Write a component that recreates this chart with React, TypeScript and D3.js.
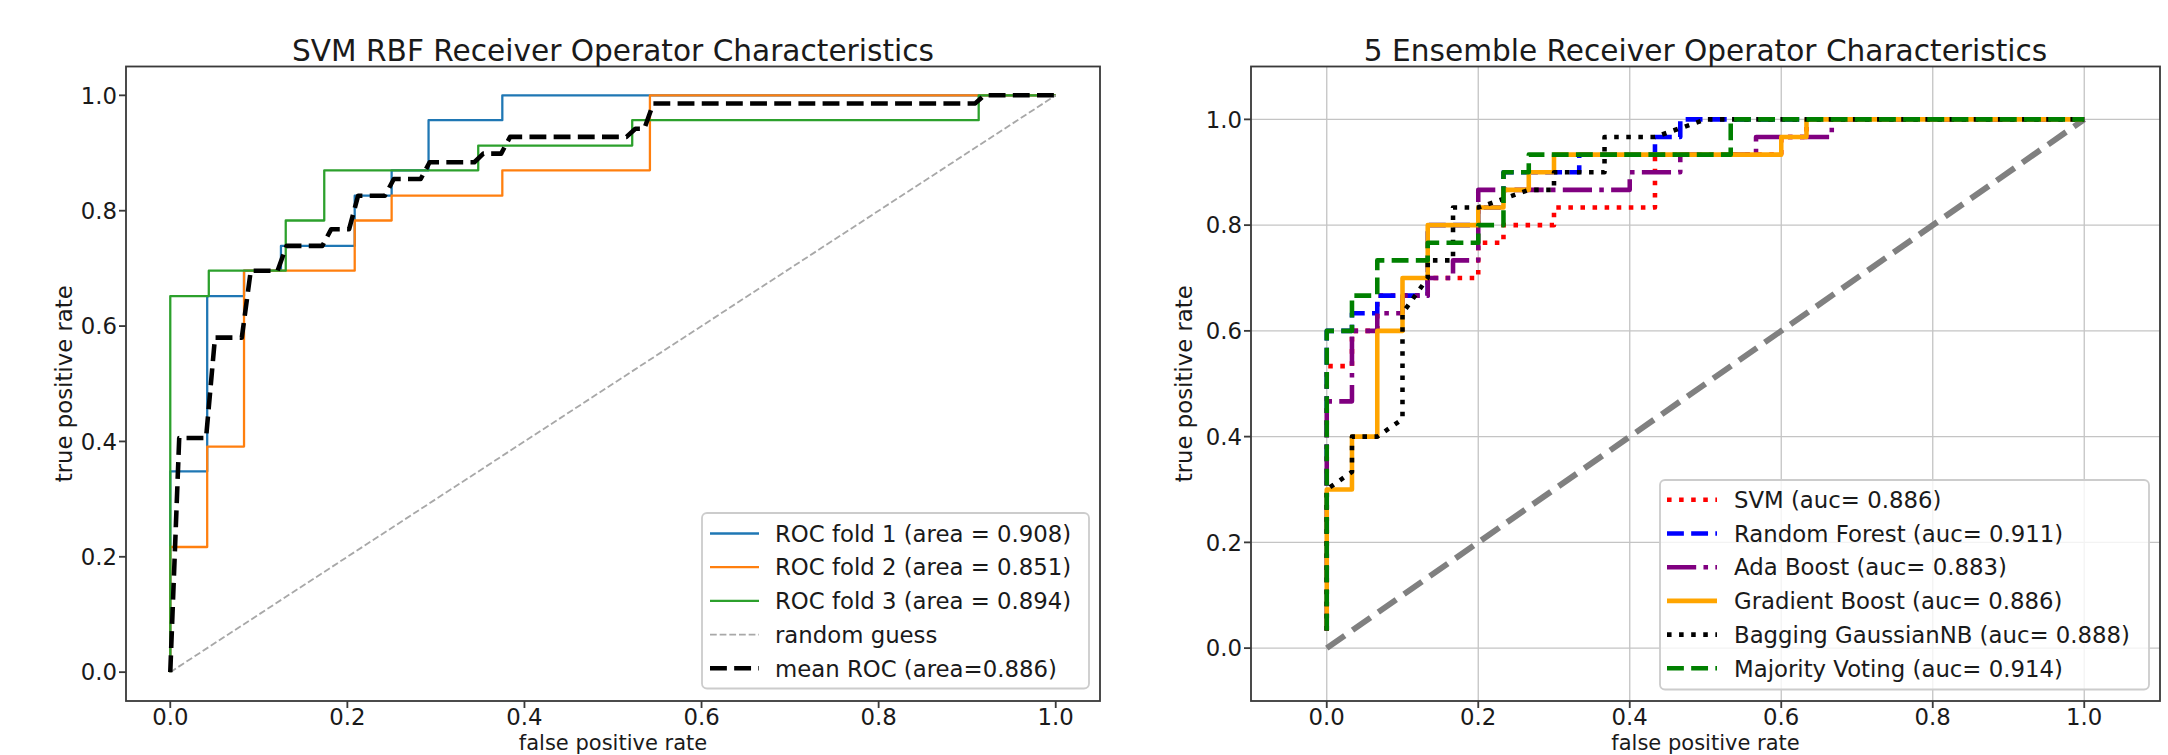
import React, { useEffect } from "react";
import * as d3 from "d3";

// ---------- data (left: SVM RBF cross-validation folds) ----------
const TICKS = [0, 0.2, 0.4, 0.6, 0.8, 1.0];
const TICK_LABELS = ["0.0", "0.2", "0.4", "0.6", "0.8", "1.0"];

const fold1Fpr = [0, 0, 0.0417, 0.0417, 0.0833, 0.0833, 0.125, 0.125, 0.2083, 0.2083, 0.25, 0.25, 0.2917, 0.2917, 0.375, 0.375, 1];
const fold1Tpr = [0, 0.348, 0.348, 0.652, 0.652, 0.696, 0.696, 0.739, 0.739, 0.826, 0.826, 0.870, 0.870, 0.957, 0.957, 1, 1];

const fold2Fpr = [0, 0, 0.0417, 0.0417, 0.0833, 0.0833, 0.2083, 0.2083, 0.25, 0.25, 0.375, 0.375, 0.5417, 0.5417, 1];
const fold2Tpr = [0, 0.217, 0.217, 0.391, 0.391, 0.696, 0.696, 0.783, 0.783, 0.826, 0.826, 0.870, 0.870, 1, 1];

const fold3Fpr = [0, 0, 0.0435, 0.0435, 0.1304, 0.1304, 0.1739, 0.1739, 0.3478, 0.3478, 0.5217, 0.5217, 0.913, 0.913, 1];
const fold3Tpr = [0, 0.652, 0.652, 0.696, 0.696, 0.783, 0.783, 0.870, 0.870, 0.913, 0.913, 0.957, 0.957, 1, 1];

const meanFpr = [0, 0.0101, 0.0404, 0.0505, 0.0808, 0.0909, 0.1212, 0.1313, 0.1717, 0.1818, 0.202, 0.2121, 0.2424, 0.2525, 0.2828, 0.2929, 0.3434, 0.3535, 0.3737, 0.3838, 0.5152, 0.5253, 0.5354, 0.5455, 0.9091, 0.9192, 1];
const meanTpr = [0, 0.406, 0.406, 0.580, 0.580, 0.696, 0.696, 0.739, 0.739, 0.768, 0.768, 0.826, 0.826, 0.855, 0.855, 0.884, 0.884, 0.899, 0.899, 0.928, 0.928, 0.942, 0.942, 0.986, 0.986, 1, 1];

const guessFpr = [0, 1];
const guessTpr = [0, 1];

const leftLabels = [
  "ROC fold 1 (area = 0.908)",
  "ROC fold 2 (area = 0.851)",
  "ROC fold 3 (area = 0.894)",
  "random guess",
  "mean ROC (area=0.886)",
];

// ---------- data (right: ensemble comparison) ----------
const svmFpr = [0, 0, 0.0333, 0.0333, 0.0667, 0.0667, 0.1333, 0.1333, 0.2, 0.2, 0.2333, 0.2333, 0.3, 0.3, 0.4333, 0.4333, 0.6, 0.6, 0.6333, 0.6333, 1];
const svmTpr = [0.0333, 0.5333, 0.5333, 0.6, 0.6, 0.6667, 0.6667, 0.7, 0.7, 0.7667, 0.7667, 0.8, 0.8, 0.8333, 0.8333, 0.9333, 0.9333, 0.9667, 0.9667, 1, 1];

const rfFpr = [0, 0, 0.0333, 0.0333, 0.0667, 0.0667, 0.1333, 0.1333, 0.2, 0.2, 0.2333, 0.2333, 0.3333, 0.3333, 0.4333, 0.4333, 0.4667, 0.4667, 1];
const rfTpr = [0.0333, 0.6, 0.6, 0.6333, 0.6333, 0.6667, 0.6667, 0.8, 0.8, 0.8333, 0.8333, 0.9, 0.9, 0.9333, 0.9333, 0.9667, 0.9667, 1, 1];

const adaFpr = [0, 0, 0.0333, 0.0333, 0.0667, 0.0667, 0.1, 0.1, 0.1333, 0.1333, 0.1667, 0.1667, 0.2, 0.2, 0.4, 0.4, 0.4667, 0.4667, 0.5667, 0.5667, 0.6667, 0.6667, 1];
const adaTpr = [0.0333, 0.4667, 0.4667, 0.6, 0.6, 0.6333, 0.6333, 0.6667, 0.6667, 0.7, 0.7, 0.7333, 0.7333, 0.8667, 0.8667, 0.9, 0.9, 0.9333, 0.9333, 0.9667, 0.9667, 1, 1];

const gbFpr = [0, 0, 0.0333, 0.0333, 0.0667, 0.0667, 0.1, 0.1, 0.1333, 0.1333, 0.2, 0.2, 0.2333, 0.2333, 0.2667, 0.2667, 0.3, 0.3, 0.6, 0.6, 0.6333, 0.6333, 1];
const gbTpr = [0.0333, 0.3, 0.3, 0.4, 0.4, 0.6, 0.6, 0.7, 0.7, 0.8, 0.8, 0.8333, 0.8333, 0.8667, 0.8667, 0.9, 0.9, 0.9333, 0.9333, 0.9667, 0.9667, 1, 1];

const bagFpr = [0, 0, 0.0333, 0.0333, 0.0667, 0.1, 0.1, 0.1333, 0.1333, 0.1667, 0.1667, 0.2, 0.2667, 0.3, 0.3, 0.3667, 0.3667, 0.4333, 0.5, 1];
const bagTpr = [0.0333, 0.3, 0.3333, 0.4, 0.4, 0.4333, 0.6333, 0.7, 0.7333, 0.7333, 0.8333, 0.8333, 0.8667, 0.8667, 0.9, 0.9, 0.9667, 0.9667, 1, 1];

const mvFpr = [0, 0, 0.0333, 0.0333, 0.0667, 0.0667, 0.1333, 0.1333, 0.2, 0.2, 0.2333, 0.2333, 0.2667, 0.2667, 0.5333, 0.5333, 1];
const mvTpr = [0.0333, 0.6, 0.6, 0.6667, 0.6667, 0.7333, 0.7333, 0.7667, 0.7667, 0.8, 0.8, 0.9, 0.9, 0.9333, 0.9333, 1, 1];

const diagFpr = [0, 1];
const diagTpr = [0, 1];

const rightLabels = [
  "SVM (auc= 0.886)",
  "Random Forest (auc= 0.911)",
  "Ada Boost (auc= 0.883)",
  "Gradient Boost (auc= 0.886)",
  "Bagging GaussianNB (auc= 0.888)",
  "Majority Voting (auc= 0.914)",
];

// ---------- styling ----------
const FONT = "DejaVu Sans";
const FS = 22.8;
const XLABEL_FS = 21;
const TITLE_FS = 29.6;
const TEXT = "#1a1a1a";
const PT = 2.28; // px per point

type Style = { color: string; width: number; dash?: string };

const leftStyles: Style[] = [
  { color: "#1f77b4", width: 1 * PT },
  { color: "#ff7f0e", width: 1 * PT },
  { color: "#2ca02c", width: 1 * PT },
  { color: "#a8a8a8", width: 0.8 * PT, dash: `${3.7 * 0.8 * PT} ${1.6 * 0.8 * PT}` },
  { color: "#000000", width: 2 * PT, dash: `${3.7 * 2 * PT} ${1.6 * 2 * PT}` },
];

const LW = 2 * PT;
const rightStyles: Style[] = [
  { color: "#ff0000", width: LW, dash: `${1 * LW} ${1.65 * LW}` },
  { color: "#0000ff", width: LW, dash: `${3.7 * LW} ${1.6 * LW}` },
  { color: "#800080", width: LW, dash: `${6.4 * LW} ${1.6 * LW} ${1 * LW} ${1.6 * LW}` },
  { color: "#ffa500", width: LW },
  { color: "#000000", width: LW, dash: `${1 * LW} ${1.65 * LW}` },
  { color: "#008000", width: LW, dash: `${3.7 * LW} ${1.6 * LW}` },
];
const diagStyle: Style = { color: "#808080", width: 2.6 * PT, dash: `${3.7 * 2.6 * PT} ${1.6 * 2.6 * PT}` };

const W = 2168;
const H = 755;

const zip = (xs: number[], ys: number[]) => xs.map((x, i) => [x, ys[i]] as [number, number]);

function Axes(props: {
  x: d3.ScaleLinear<number, number>;
  y: d3.ScaleLinear<number, number>;
  grid: boolean;
  title: string;
  ylabelX: number;
  clipId: string;
  children?: React.ReactNode;
}) {
  const { x, y, grid, title, ylabelX, clipId, children } = props;
  const [x0, x1] = x.range();
  const [y0, y1] = y.range(); // y0 bottom, y1 top
  const cx = (x0 + x1) / 2;
  const cy = (y0 + y1) / 2;
  return (
    <g>
      <defs>
        <clipPath id={clipId}>
          <rect x={x0} y={y1} width={x1 - x0} height={y0 - y1} />
        </clipPath>
      </defs>
      {grid &&
        TICKS.map((t) => (
          <g key={"g" + t}>
            <line x1={x(t)} x2={x(t)} y1={y1} y2={y0} stroke="#c4c4c4" strokeWidth={1.3} />
            <line x1={x0} x2={x1} y1={y(t)} y2={y(t)} stroke="#c4c4c4" strokeWidth={1.3} />
          </g>
        ))}
      <g clipPath={`url(#${clipId})`}>{children}</g>
      {/* spines */}
      <rect x={x0} y={y1} width={x1 - x0} height={y0 - y1} fill="none" stroke="#3a3a3a" strokeWidth={0.8 * PT} />
      {/* ticks */}
      {TICKS.map((t, i) => (
        <g key={"t" + t}>
          <line x1={x(t)} x2={x(t)} y1={y0} y2={y0 + 7} stroke="#3a3a3a" strokeWidth={0.8 * PT} />
          <text x={x(t)} y={725} textAnchor="middle" fontSize={FS} fontFamily={FONT} fill={TEXT}>
            {TICK_LABELS[i]}
          </text>
          <line x1={x0 - 7} x2={x0} y1={y(t)} y2={y(t)} stroke="#3a3a3a" strokeWidth={0.8 * PT} />
          <text x={x0 - 9} y={y(t)} dy="0.36em" textAnchor="end" fontSize={FS} fontFamily={FONT} fill={TEXT}>
            {TICK_LABELS[i]}
          </text>
        </g>
      ))}
      <text x={cx} y={61} textAnchor="middle" fontSize={TITLE_FS} fontFamily={FONT} fill={TEXT}>
        {title}
      </text>
      <text x={cx} y={750} textAnchor="middle" fontSize={XLABEL_FS} fontFamily={FONT} fill={TEXT}>
        false positive rate
      </text>
      <text
        transform={`translate(${ylabelX},${cy}) rotate(-90)`}
        textAnchor="middle"
        fontSize={FS}
        fontFamily={FONT}
        fill={TEXT}
      >
        true positive rate
      </text>
    </g>
  );
}

function Legend(props: {
  x: number;
  y: number;
  w: number;
  h: number;
  rows: number[];
  handleX: [number, number];
  textX: number;
  labels: string[];
  styles: Style[];
}) {
  const { x, y, w, h, rows, handleX, textX, labels, styles } = props;
  return (
    <g>
      <rect x={x} y={y} width={w} height={h} rx={5} fill="white" fillOpacity={0.8} stroke="#cccccc" strokeWidth={0.8 * PT} />
      {labels.map((lab, i) => (
        <g key={lab}>
          <line
            x1={handleX[0]}
            x2={handleX[1]}
            y1={rows[i]}
            y2={rows[i]}
            stroke={styles[i].color}
            strokeWidth={styles[i].width}
            strokeDasharray={styles[i].dash}
          />
          <text x={textX} y={rows[i]} dy="0.36em" fontSize={FS} fontFamily={FONT} fill={TEXT}>
            {lab}
          </text>
        </g>
      ))}
    </g>
  );
}

export default function App() {
  useEffect(() => {
    document.body.style.margin = "0";
  }, []);

  const xL = d3.scaleLinear().domain([-0.05, 1.05]).range([126, 1100]);
  const yL = d3.scaleLinear().domain([-0.05, 1.05]).range([701, 66.5]);
  const xR = d3.scaleLinear().domain([-0.1, 1.1]).range([1251, 2160]);
  const yR = d3.scaleLinear().domain([-0.1, 1.1]).range([701, 66.5]);

  const lineL = d3.line<[number, number]>().x((d) => xL(d[0])).y((d) => yL(d[1]));
  const lineR = d3.line<[number, number]>().x((d) => xR(d[0])).y((d) => yR(d[1]));

  const leftSeries = [
    zip(fold1Fpr, fold1Tpr),
    zip(fold2Fpr, fold2Tpr),
    zip(fold3Fpr, fold3Tpr),
    zip(guessFpr, guessTpr),
    zip(meanFpr, meanTpr),
  ];
  const rightSeries = [
    zip(svmFpr, svmTpr),
    zip(rfFpr, rfTpr),
    zip(adaFpr, adaTpr),
    zip(gbFpr, gbTpr),
    zip(bagFpr, bagTpr),
    zip(mvFpr, mvTpr),
  ];

  return (
    <div style={{ position: "absolute", left: 0, top: 0, width: W, height: H, background: "white" }}>
      <svg width={W} height={H} viewBox={`0 0 ${W} ${H}`} style={{ display: "block" }}>
        <rect width={W} height={H} fill="white" />
        <Axes x={xL} y={yL} grid={false} title="SVM RBF Receiver Operator Characteristics" ylabelX={72} clipId="clipL">
          {leftSeries.map((s, i) => (
            <path
              key={i}
              d={lineL(s) || ""}
              fill="none"
              stroke={leftStyles[i].color}
              strokeWidth={leftStyles[i].width}
              strokeDasharray={leftStyles[i].dash}
              strokeLinejoin="round"
            />
          ))}
        </Axes>
        <Legend
          x={702}
          y={513}
          w={387}
          h={175.5}
          rows={[533.5, 567.2, 600.9, 634.6, 668.3]}
          handleX={[710, 759]}
          textX={775}
          labels={leftLabels}
          styles={leftStyles}
        />

        <Axes x={xR} y={yR} grid={true} title="5 Ensemble Receiver Operator Characteristics" ylabelX={1192} clipId="clipR">
          <path
            d={lineR(zip(diagFpr, diagTpr)) || ""}
            fill="none"
            stroke={diagStyle.color}
            strokeWidth={diagStyle.width}
            strokeDasharray={diagStyle.dash}
          />
          {rightSeries.map((s, i) => (
            <path
              key={i}
              d={lineR(s) || ""}
              fill="none"
              stroke={rightStyles[i].color}
              strokeWidth={rightStyles[i].width}
              strokeDasharray={rightStyles[i].dash}
              strokeLinejoin="round"
            />
          ))}
        </Axes>
        <Legend
          x={1660}
          y={480}
          w={489}
          h={209.5}
          rows={[499.8, 533.5, 567.2, 600.9, 634.6, 668.3]}
          handleX={[1667, 1717]}
          textX={1734}
          labels={rightLabels}
          styles={rightStyles}
        />
      </svg>
    </div>
  );
}
